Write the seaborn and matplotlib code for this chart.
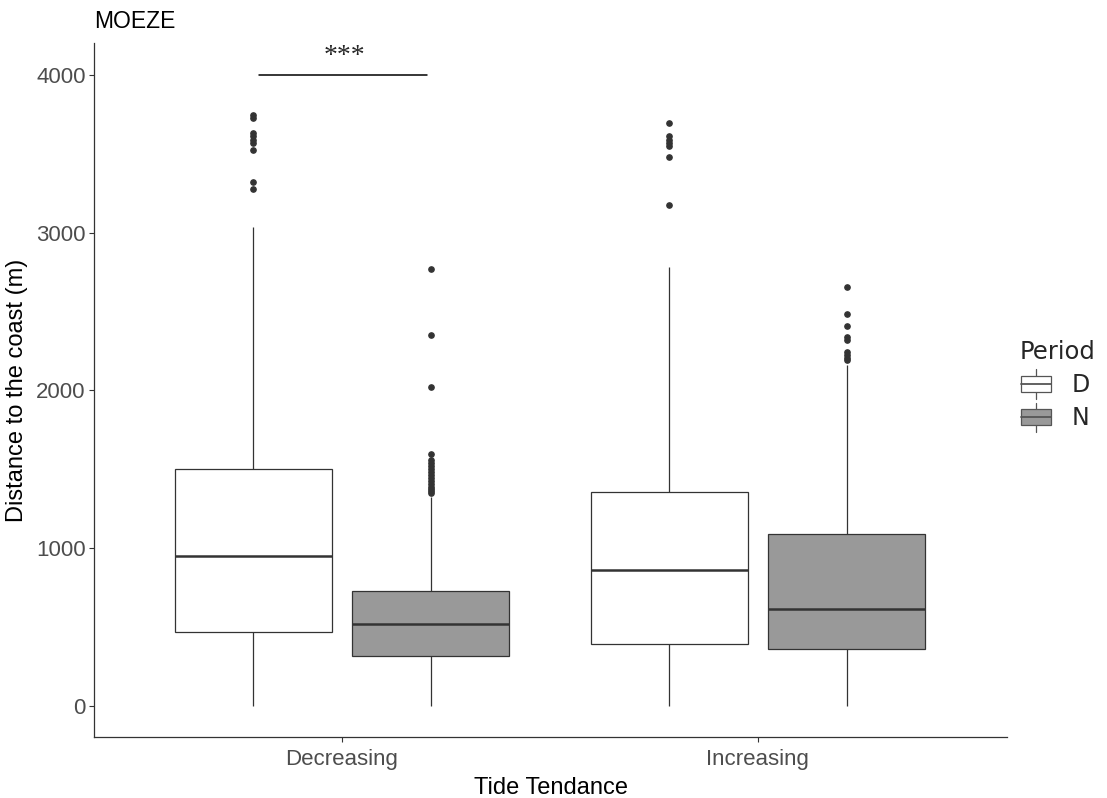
import numpy as np
import pandas as pd
import matplotlib
matplotlib.use("Agg")
import matplotlib.pyplot as plt
import seaborn as sns
from matplotlib.legend_handler import HandlerBase
from matplotlib.patches import Rectangle, Patch
from matplotlib.lines import Line2D

# valeurs (m)
tides = ["Decreasing", "Increasing"]
periods = ["D", "N"]
whisker_low = {("Decreasing", "D"): 0, ("Decreasing", "N"): 0,
               ("Increasing", "D"): 0, ("Increasing", "N"): 0}
q1 = {("Decreasing", "D"): 471, ("Decreasing", "N"): 319,
      ("Increasing", "D"): 395, ("Increasing", "N"): 361}
median = {("Decreasing", "D"): 951, ("Decreasing", "N"): 522,
          ("Increasing", "D"): 862, ("Increasing", "N"): 617}
q3 = {("Decreasing", "D"): 1500, ("Decreasing", "N"): 729,
      ("Increasing", "D"): 1357, ("Increasing", "N"): 1090}
whisker_high = {("Decreasing", "D"): 3036, ("Decreasing", "N"): 1325,
                ("Increasing", "D"): 2785, ("Increasing", "N"): 2162}
outliers = {
    ("Decreasing", "D"): [3746, 3728, 3632, 3612, 3590, 3569, 3525, 3324, 3275],
    ("Decreasing", "N"): [2770, 2352, 2020, 1597, 1560, 1540, 1520, 1500, 1485,
                          1465, 1445, 1425, 1405, 1390, 1375, 1362, 1350],
    ("Increasing", "D"): [3698, 3613, 3590, 3570, 3552, 3478, 3178],
    ("Increasing", "N"): [2654, 2487, 2409, 2341, 2320, 2246, 2225, 2205, 2192],
}
sig_text = "***"
sig_y = 4000

colors = {"D": "white", "N": "#999999"}


def rebuild_sample(key):
    # échantillon dont les quartiles redonnent exactement les valeurs lues
    top = [whisker_high[key]] + outliers[key]
    m = len(top)
    return ([whisker_low[key]] * m + [q1[key]] * m + [median[key]] * m
            + [q3[key]] + top)


rows = []
for t in tides:
    for p in periods:
        for v in rebuild_sample((t, p)):
            rows.append({"Tide Tendance": t, "Period": p, "dist": v})
df = pd.DataFrame(rows)

sns.set_style("white")
plt.rcParams["font.family"] = ["Liberation Sans", "DejaVu Sans"]

fig = plt.figure(figsize=(11.07, 7.98), dpi=100)
ax = fig.add_axes([94 / 1107, 1 - 737 / 798, (1007 - 94) / 1107, (737 - 43) / 798])

sns.boxplot(data=df, x="Tide Tendance", y="dist", hue="Period",
            order=tides, hue_order=periods, palette=colors,
            width=0.853, gap=0.116, linecolor="#333333", linewidth=0.9,
            showcaps=False,
            flierprops=dict(marker="o", markersize=3.8, markerfacecolor="#333333",
                            markeredgecolor="#333333"),
            medianprops=dict(linewidth=1.8, color="#333333"),
            legend=False, ax=ax)

ax.set_xlim(-0.596, 1.599)
ax.set_ylim(-197, 4203)
ax.set_yticks([0, 1000, 2000, 3000, 4000])
ax.set_xlabel("Tide Tendance", fontsize=17, color="black", labelpad=5)
ax.set_ylabel("Distance to the coast (m)", fontsize=17, color="black", labelpad=6)
ax.tick_params(axis="both", labelsize=16, labelcolor="#4D4D4D", color="#333333",
               length=3.5, width=0.8, pad=2.5, direction="out", bottom=True, left=True)
ax.tick_params(axis="x", pad=5)
for s in ["top", "right"]:
    ax.spines[s].set_visible(False)
for s in ["left", "bottom"]:
    ax.spines[s].set_color("#333333")
    ax.spines[s].set_linewidth(0.9)

# barre de significativité
ax.plot([-0.2, 0.205], [sig_y, sig_y], color="black", linewidth=1.1)
ax.text(0.005, 4118, sig_text, ha="center", va="center", fontsize=20,
        family=["Liberation Serif", "DejaVu Serif"])

fig.text(94 / 1107, 1 - 22 / 798, "MOEZE", ha="left", va="center", fontsize=16.5, color="black")


class BoxKey(HandlerBase):
    def create_artists(self, legend, orig_handle, xdescent, ydescent,
                       width, height, fontsize, trans):
        fc = orig_handle.get_facecolor()
        ec = "#555555"
        bw = width * 0.9
        x0 = -xdescent + (width - bw) / 2
        y0 = -ydescent
        bh = height * 0.75
        yb = y0 + (height - bh) / 2
        xc = x0 + bw / 2
        arts = [
            Line2D([xc, xc], [y0 - height * 0.2, yb], color=ec, lw=0.9, transform=trans),
            Line2D([xc, xc], [yb + bh, y0 + height * 1.2], color=ec, lw=0.9, transform=trans),
            Rectangle((x0, yb), bw, bh, facecolor=fc, edgecolor=ec, lw=0.9, transform=trans),
            Line2D([x0, x0 + bw], [yb + bh / 2] * 2, color=ec, lw=1.3, transform=trans),
        ]
        return arts


handles = [Patch(facecolor=colors[p]) for p in periods]
leg = fig.legend(handles, periods, title="Period", loc="center left",
                 bbox_to_anchor=(998 / 1107, 1 - 385 / 798), frameon=False,
                 handler_map={Patch: BoxKey()}, handlelength=1.4, handleheight=1.0,
                 handletextpad=0.8, labelspacing=0.4,
                 prop={"family": "DejaVu Sans", "size": 17})
leg.get_title().set_fontfamily("DejaVu Sans")
leg.get_title().set_fontsize(17.5)
leg._legend_box.align = "left"

fig.savefig("out.png", dpi=100)
